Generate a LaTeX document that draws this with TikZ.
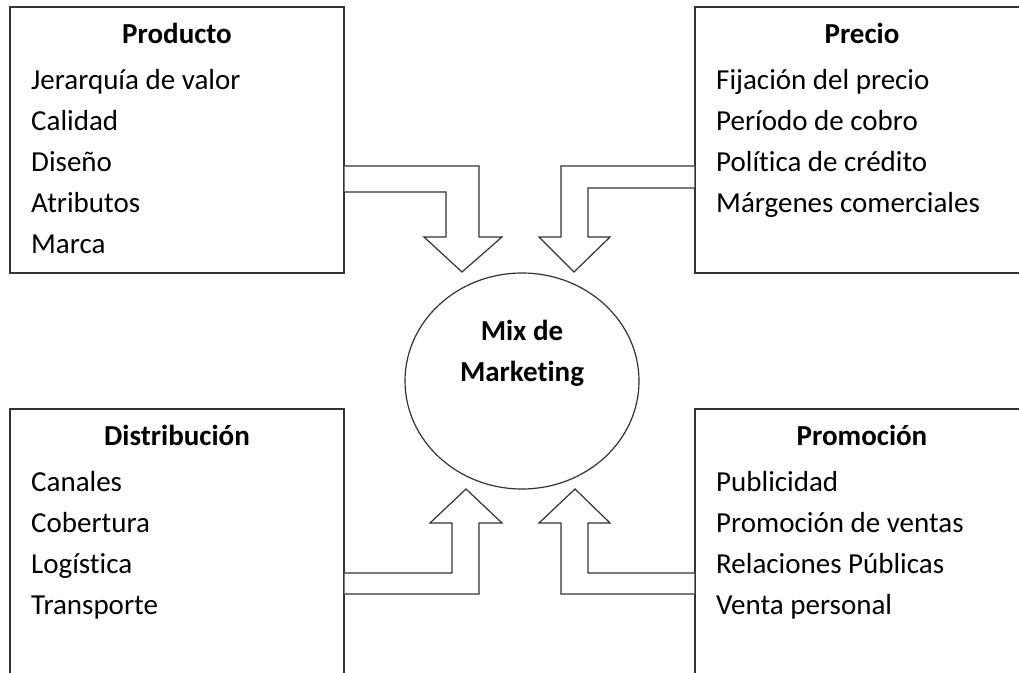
\documentclass[tikz,border=0pt]{standalone}
\usepackage{fontspec}
\setmainfont{Carlito}[Ligatures=NoCommon]
\usetikzlibrary{shapes.geometric,calc}
\begin{document}
\begin{tikzpicture}[x=1pt,y=-1pt,
  box/.style={draw=black!80,line width=1.2pt,rectangle,inner sep=0pt},
  ttl/.style={anchor=base,font=\fontsize{29}{34}\selectfont\bfseries,inner sep=0pt},
  itm/.style={anchor=base west,font=\fontsize{29}{34}\selectfont,inner sep=0pt},
  blockarrow/.style={draw=black!80,line width=1.2pt,fill=white,line join=miter}]
\useasboundingbox (0,0) rectangle (1019,672);
\clip (0,0) rectangle (1019,672);
\fill[white] (0,0) rectangle (1019,672);
% boxes
\node[box,minimum width=334pt,minimum height=266pt] (prod) at (177,140) {};
\node[box,minimum width=334pt,minimum height=266pt] (prec) at (862,140) {};
\node[box,minimum width=334pt,minimum height=300pt] (dist) at (177,559) {};
\node[box,minimum width=334pt,minimum height=300pt] (prom) at (862,559) {};
% circle
\node[draw=black!80,line width=1.2pt,ellipse,minimum width=234pt,minimum height=216pt,inner sep=0pt] (mix) at (522,381) {};
\node[ttl] (mix1) at (522,340) {Mix de};
\node[ttl] (mix2) at (522,381) {Marketing};
% Producto
\node[ttl] (prodT) at (177,43) {Producto};
\node[itm] (p1) at (31,89) {Jerarquía de valor};
\node[itm] (p2) at (31,130) {Calidad};
\node[itm] (p3) at (31,171) {Diseño};
\node[itm] (p4) at (31,212) {Atributos};
\node[itm] (p5) at (31,253) {Marca};
% Precio
\node[ttl] (precT) at (862,43) {Precio};
\node[itm] (r1) at (716,89) {Fijación del precio};
\node[itm] (r2) at (716,130) {Período de cobro};
\node[itm] (r3) at (716,171) {Política de crédito};
\node[itm] (r4) at (716,212) {Márgenes comerciales};
% Distribucion
\node[ttl] (distT) at (177,445) {Distribución};
\node[itm] (d1) at (31,491) {Canales};
\node[itm] (d2) at (31,532) {Cobertura};
\node[itm] (d3) at (31,573) {Logística};
\node[itm] (d4) at (31,614) {Transporte};
% Promocion
\node[ttl] (promT) at (862,445) {Promoción};
\node[itm] (m1) at (716,491) {Publicidad};
\node[itm] (m2) at (716,532) {Promoción de ventas};
\node[itm] (m3) at (716,573) {Relaciones Públicas};
\node[itm] (m4) at (716,614) {Venta personal};
% block arrows
\draw[blockarrow] (prod.east |- 0,166) -- (479,166) -- (479,237) -- (502,237) -- (462,272) -- (424,237) -- (446,237) -- (446,192) -- (prod.east |- 0,192);
\draw[blockarrow] (prec.west |- 0,166) -- (561,166) -- (561,237) -- (539,237) -- (574,272) -- (610,237) -- (588,237) -- (588,188) -- (prec.west |- 0,188);
\draw[blockarrow] (dist.east |- 0,594) -- (479,594) -- (479,523) -- (502,523) -- (466,489) -- (430,523) -- (452,523) -- (452,573) -- (dist.east |- 0,573);
\draw[blockarrow] (prom.west |- 0,594) -- (561,594) -- (561,523) -- (539,523) -- (575,489) -- (610,523) -- (588,523) -- (588,573) -- (prom.west |- 0,573);
\end{tikzpicture}
\end{document}
